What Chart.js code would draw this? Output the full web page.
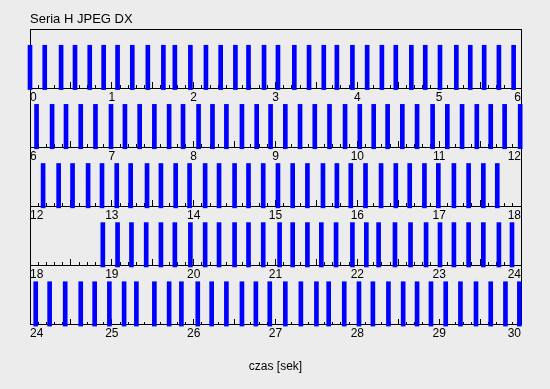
<!DOCTYPE html>
<html>
<head>
<meta charset="utf-8">
<script src="https://cdn.jsdelivr.net/npm/chart.js@4.4.1/dist/chart.umd.min.js"></script>
<style>
html, body { margin: 0; padding: 0; background: #ececec; }
canvas { display: block; }
</style>
</head>
<body>
<canvas id="wykres" width="550" height="389"></canvas>
<script>
'use strict';

// czasy kolejnych zdjęć [s], jeden pas = 6 sekund
const pas1 = [0.00, 0.18, 0.38, 0.55, 0.73, 0.90, 1.07, 1.25, 1.44, 1.63, 1.77, 1.96, 2.15, 2.33, 2.51, 2.67, 2.86,
  3.03, 3.23, 3.41, 3.59, 3.75, 3.94, 4.12, 4.30, 4.47, 4.66, 4.83, 5.01, 5.21, 5.38, 5.55, 5.73, 5.91];
const pas2 = [6.08, 6.27, 6.44, 6.62, 6.80, 6.99, 7.16, 7.34, 7.52, 7.70, 7.87, 8.06, 8.23, 8.40, 8.59, 8.77, 8.94,
  9.12, 9.30, 9.48, 9.66, 9.85, 10.03, 10.20, 10.37, 10.55, 10.73, 10.92, 11.10, 11.28, 11.46, 11.63, 11.80, 11.99];
const pas3 = [12.16, 12.35, 12.52, 12.71, 12.88, 13.06, 13.23, 13.43, 13.60, 13.78, 13.95, 14.14, 14.31, 14.50, 14.67, 14.85,
  15.03, 15.21, 15.39, 15.58, 15.75, 15.92, 16.10, 16.29, 16.47, 16.64, 16.82, 16.99, 17.18, 17.36, 17.54, 17.71];
const pas4 = [18.89, 19.07, 19.24, 19.42, 19.60, 19.77, 19.96, 20.14, 20.31, 20.50, 20.67, 20.85,
  21.05, 21.21, 21.39, 21.56, 21.74, 21.94, 22.11, 22.26, 22.46, 22.65, 22.84, 23.01, 23.18, 23.36, 23.54, 23.73, 23.89];
const pas5 = [24.07, 24.24, 24.43, 24.62, 24.79, 24.97, 25.15, 25.30, 25.52, 25.70, 25.85, 26.05, 26.22, 26.40, 26.59, 26.76, 26.93,
  27.12, 27.31, 27.50, 27.65, 27.84, 28.02, 28.19, 28.38, 28.56, 28.73, 28.90, 29.08, 29.26, 29.45, 29.63, 29.81, 29.98];

const pasy = [pas1, pas2, pas3, pas4, pas5];
const dlugoscPasa = 6;
const tytul = 'Seria H JPEG DX';
const opisOsi = 'czas [sek]';

Chart.defaults.font.family = '"Liberation Sans", Arial, sans-serif';
Chart.defaults.font.size = 12;
Chart.defaults.color = '#000';

let scales = {
  y: {
    min: 0, max: pasy.length,
    grid: { color: '#000', drawTicks: false },
    border: { color: '#000' },
    ticks: { display: false, stepSize: 1 }
  },
  yr: {
    axis: 'y', position: 'right',
    min: 0, max: pasy.length,
    grid: { display: false, drawTicks: false },
    border: { color: '#000' },
    ticks: { display: false }
  }
};
let datasets = [];

pasy.forEach(function(czasy, i) {
  let poz = pasy.length - 1 - i;
  let od = i * dlugoscPasa;

  // oś z opisami (co 1 s) i dłuższymi kreskami co 0.5 s
  scales['x' + i] = {
    type: 'linear', axis: 'x', position: { y: poz },
    min: od, max: od + dlugoscPasa, offset: false,
    grid: { drawOnChartArea: false, offset: false, tickLength: -6, color: '#000' },
    border: { display: false },
    ticks: {
      stepSize: 0.5, autoSkip: false, maxRotation: 0, align: 'inner', padding: 8,
      callback: function(v) { return Number.isInteger(v) ? String(v) : ''; }
    }
  };
  // krótkie kreski co 0.1 s
  scales['m' + i] = {
    type: 'linear', axis: 'x', position: { y: poz },
    min: od, max: od + dlugoscPasa, offset: false,
    grid: { drawOnChartArea: false, offset: false, tickLength: -3, color: '#000' },
    border: { display: false },
    ticks: { display: false, stepSize: 0.1, autoSkip: false }
  };

  datasets.push({
    xAxisID: 'x' + i,
    yAxisID: 'y',
    data: czasy.map(function(t) { return { x: t, y: [poz - 0.025, poz + 0.725] }; }),
    backgroundColor: '#0000ff',
    borderWidth: 0,
    barThickness: 4,
    grouped: false,
    clip: false
  });
});

let wykres = new Chart(document.getElementById('wykres'), {
  type: 'bar',
  data: { datasets: datasets },
  options: {
    responsive: false,
    animation: false,
    layout: { padding: { left: 30, right: 29, top: 10, bottom: 15 } },
    scales: scales,
    plugins: {
      legend: { display: false },
      tooltip: { enabled: false },
      title: {
        display: true, text: tytul, align: 'start', color: '#000',
        font: { size: 13, weight: 'normal' },
        padding: { top: 2, bottom: 1.4 }
      },
      subtitle: {
        display: true, text: opisOsi, position: 'bottom', color: '#000',
        font: { size: 12, weight: 'normal' },
        padding: { top: 35, bottom: 0 }
      }
    }
  }
});
</script>
</body>
</html>
